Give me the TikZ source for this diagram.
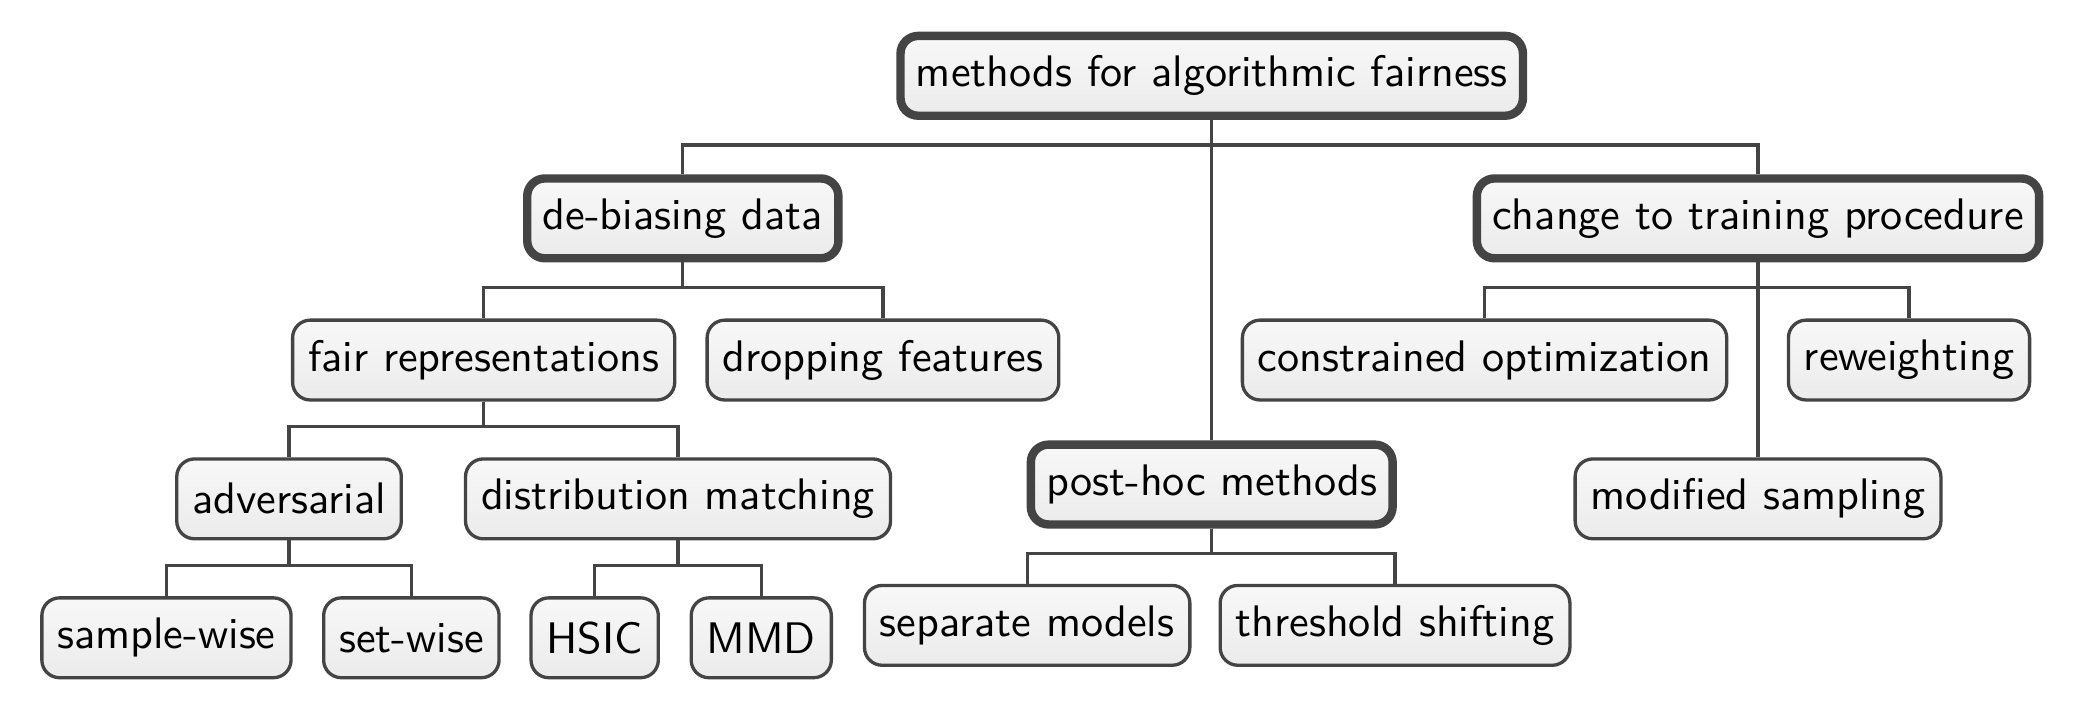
\documentclass[tikz,border=0pt]{standalone}
\usetikzlibrary{positioning}

\definecolor{linegray}{HTML}{444444}
\definecolor{boxtop}{HTML}{F8F8F8}
\definecolor{boxbottom}{HTML}{EBEBEB}

\tikzset{
  box/.style={draw=linegray, line width=0.75pt, rounded corners=4pt,
    top color=boxtop, bottom color=boxbottom,
    inner xsep=3.5pt, minimum height=0.635cm, font=\sffamily},
  mainbox/.style={box, line width=1.9pt},
  link/.style={draw=linegray, line width=0.75pt}
}

\begin{document}
\begin{tikzpicture}
  \useasboundingbox (0,0) rectangle (16.56,-5.72);

  \node[mainbox] (Root)        at (9.638,-0.603)  {methods for algorithmic fairness};
  \node[mainbox] (Debias)      at (5.431,-1.737)  {de-biasing data};
  \node[mainbox] (Change)      at (13.983,-1.737) {change to training procedure};
  \node[mainbox] (PostHoc)     at (9.638,-3.854)  {post-hoc methods};

  \node[box] (FairRep)     at (3.847,-2.864)  {fair representations};
  \node[box] (Dropping)    at (7.023,-2.864)  {dropping features};
  \node[box] (Constrained) at (11.808,-2.864) {constrained optimization};
  \node[box] (Reweight)    at (15.184,-2.864) {reweighting};
  \node[box] (Modified)    at (13.983,-3.968) {modified sampling};
  \node[box] (Adversarial) at (2.299,-3.968)  {adversarial};
  \node[box] (DistMatch)   at (5.393,-3.968)  {distribution matching};
  \node[box] (SampleWise)  at (1.324,-5.073)  {sample-wise};
  \node[box] (SetWise)     at (3.272,-5.073)  {set-wise};
  \node[box] (HSIC)        at (4.730,-5.073)  {HSIC};
  \node[box] (MMD)         at (6.055,-5.073)  {MMD};
  \node[box] (Separate)    at (8.170,-4.974)  {separate models};
  \node[box] (Threshold)   at (11.096,-4.974) {threshold shifting};

  % parent -> child, elbow connectors
  \foreach \p/\c in {Root/Debias, Root/PostHoc, Root/Change,
      Debias/FairRep, Debias/Dropping,
      Change/Constrained, Change/Reweight, Change/Modified,
      FairRep/Adversarial, FairRep/DistMatch,
      Adversarial/SampleWise, Adversarial/SetWise,
      DistMatch/HSIC, DistMatch/MMD,
      PostHoc/Separate, PostHoc/Threshold}
    \draw[link] (\p.south) -- ++(0,-0.2) -| (\c.north);
\end{tikzpicture}
\end{document}
